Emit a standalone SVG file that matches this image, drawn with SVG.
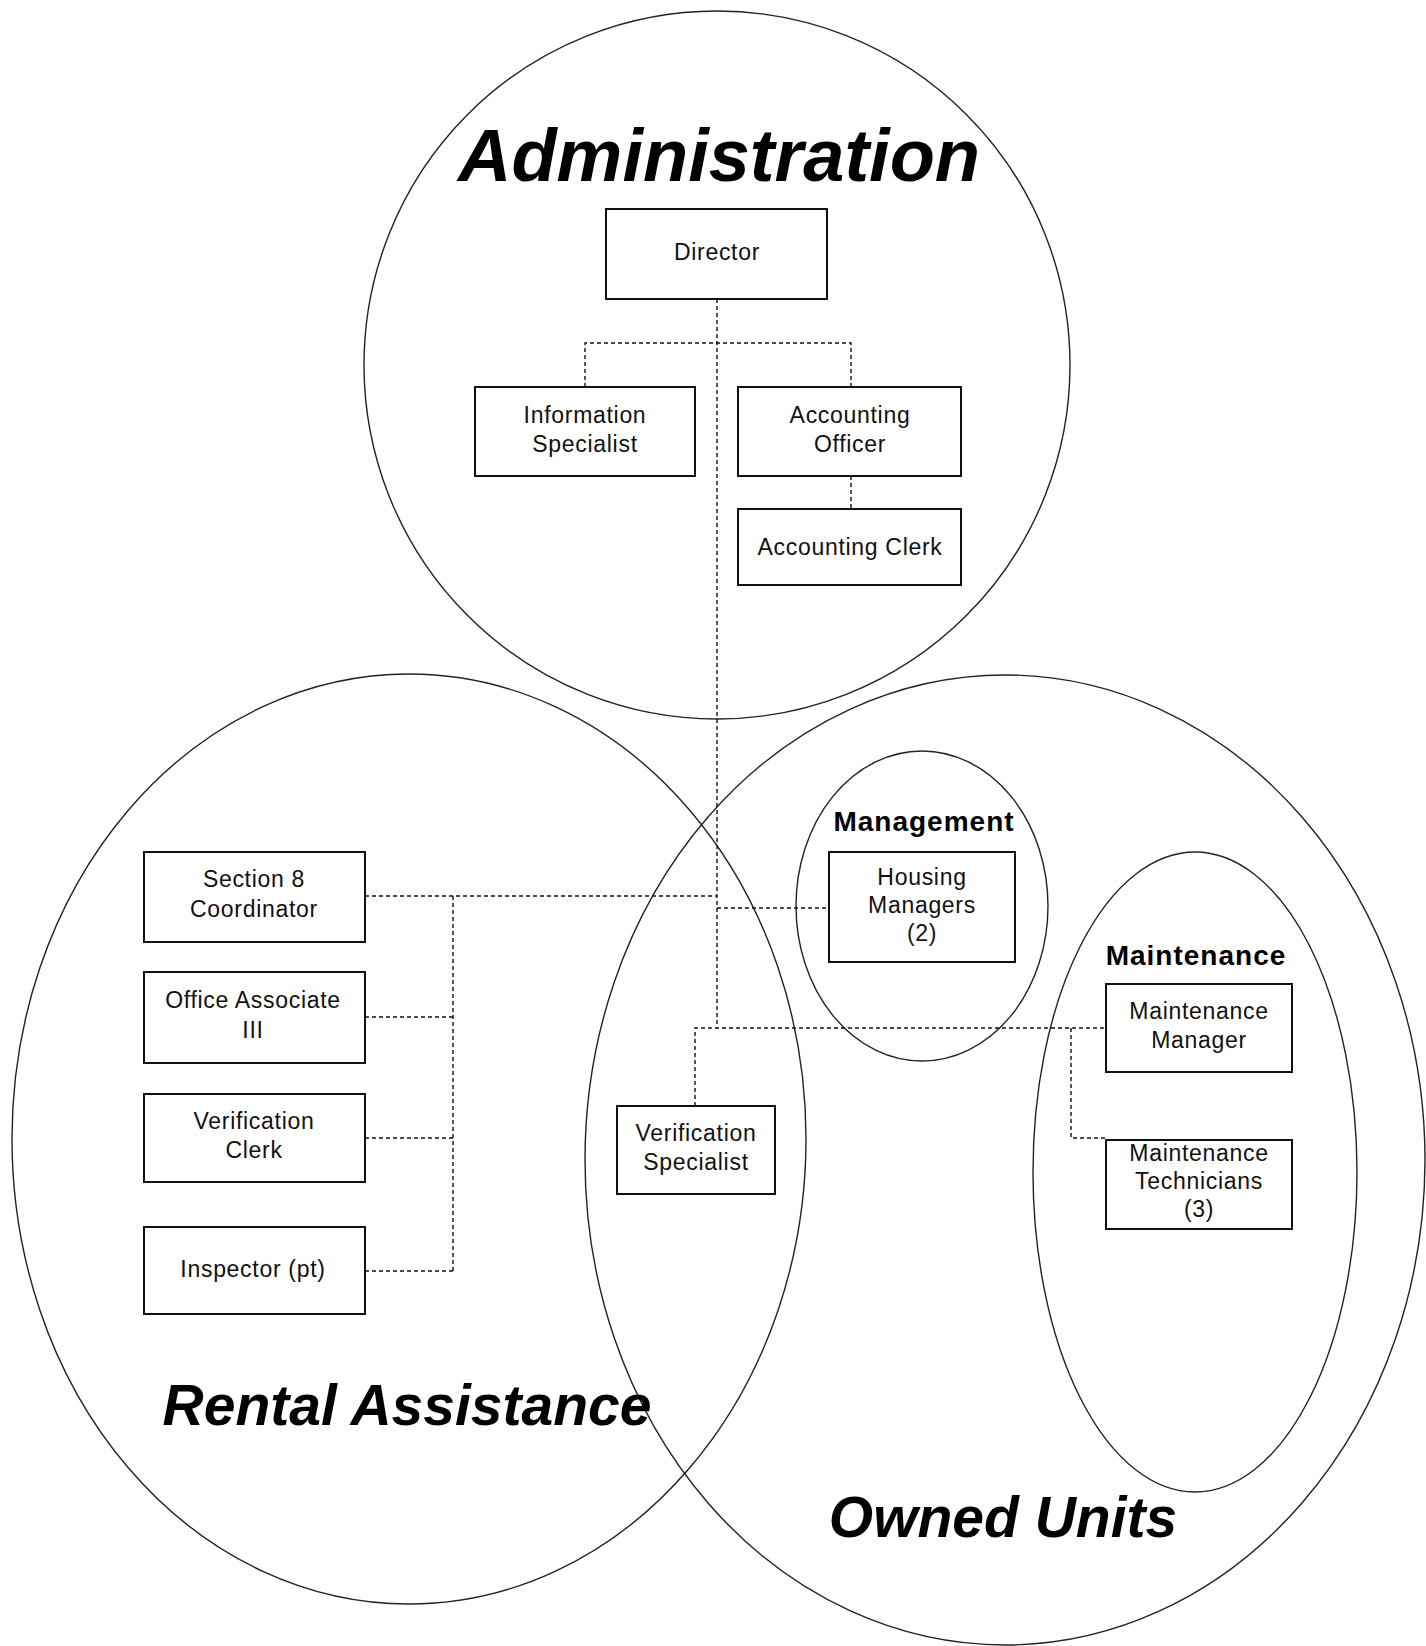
<svg xmlns="http://www.w3.org/2000/svg" width="1426" height="1646" viewBox="0 0 1426 1646">
<style>
.area{fill:none;stroke:#222;stroke-width:1.4}
.box{fill:#fff;stroke:#111;stroke-width:2}
.t{font-family:"Liberation Sans",Arial,sans-serif;font-size:23px;letter-spacing:0.7px;text-anchor:middle;fill:#111}
.sub{font-family:"Liberation Sans",Arial,sans-serif;font-size:28px;font-weight:bold;letter-spacing:1px;text-anchor:middle;fill:#000}
.big{font-family:"Liberation Sans",Arial,sans-serif;font-weight:bold;font-style:italic;text-anchor:middle;fill:#000}
.conn{fill:none;stroke:#111;stroke-width:1.4;stroke-dasharray:4 3}
</style>
<rect width="1426" height="1646" fill="#fff"/>
<g id="areas">
<ellipse id="admin-area" class="area" cx="717" cy="365" rx="353" ry="354"/>
<ellipse id="rental-area" class="area" cx="409" cy="1139" rx="397" ry="465"/>
<ellipse id="owned-area" class="area" cx="1005" cy="1160" rx="420" ry="485"/>
<ellipse id="management-area" class="area" cx="922" cy="906" rx="126" ry="155"/>
<ellipse id="maintenance-area" class="area" cx="1195" cy="1172" rx="162" ry="320"/>
<text class="big" x="719" y="181" font-size="74">Administration</text>
<text class="big" x="407" y="1425" font-size="57">Rental Assistance</text>
<text class="big" x="1003" y="1537" font-size="57">Owned Units</text>
<text class="sub" x="924" y="831">Management</text>
<text class="sub" x="1196" y="965">Maintenance</text>
</g>
<g id="connectors">
<path class="conn" d="M717 299 V1028"/>
<path class="conn" d="M585 387 V343 H851 V387"/>
<path class="conn" d="M851 476 V509"/>
<path class="conn" d="M365 896 H717"/>
<path class="conn" d="M453 896 V1271"/>
<path class="conn" d="M365 1017 H453"/>
<path class="conn" d="M365 1138 H453"/>
<path class="conn" d="M365 1271 H453"/>
<path class="conn" d="M717 908 H829"/>
<path class="conn" d="M695 1106 V1028 H1106"/>
<path class="conn" d="M1071 1028 V1138 H1106"/>
</g>
<g id="director"><rect class="box" x="606" y="209" width="221" height="90"/><text class="t" x="717" y="260">Director</text></g>
<g id="information-specialist"><rect class="box" x="475" y="387" width="220" height="89"/><text class="t" x="585" y="423">Information</text><text class="t" x="585" y="452">Specialist</text></g>
<g id="accounting-officer"><rect class="box" x="738" y="387" width="223" height="89"/><text class="t" x="850" y="423">Accounting</text><text class="t" x="850" y="452">Officer</text></g>
<g id="accounting-clerk"><rect class="box" x="738" y="509" width="223" height="76"/><text class="t" x="850" y="555">Accounting Clerk</text></g>
<g id="section8-coordinator"><rect class="box" x="144" y="852" width="221" height="90"/><text class="t" x="254" y="887">Section 8</text><text class="t" x="254" y="917">Coordinator</text></g>
<g id="office-associate"><rect class="box" x="144" y="972" width="221" height="91"/><text class="t" x="253" y="1008">Office Associate</text><text class="t" x="253" y="1038">III</text></g>
<g id="verification-clerk"><rect class="box" x="144" y="1094" width="221" height="88"/><text class="t" x="254" y="1129">Verification</text><text class="t" x="254" y="1158">Clerk</text></g>
<g id="inspector"><rect class="box" x="144" y="1227" width="221" height="87"/><text class="t" x="253" y="1277">Inspector (pt)</text></g>
<g id="verification-specialist"><rect class="box" x="617" y="1106" width="158" height="88"/><text class="t" x="696" y="1141">Verification</text><text class="t" x="696" y="1170">Specialist</text></g>
<g id="housing-managers"><rect class="box" x="829" y="852" width="186" height="110"/><text class="t" x="922" y="885">Housing</text><text class="t" x="922" y="913">Managers</text><text class="t" x="922" y="941">(2)</text></g>
<g id="maintenance-manager"><rect class="box" x="1106" y="984" width="186" height="88"/><text class="t" x="1199" y="1019">Maintenance</text><text class="t" x="1199" y="1048">Manager</text></g>
<g id="maintenance-technicians"><rect class="box" x="1106" y="1140" width="186" height="89"/><text class="t" x="1199" y="1161">Maintenance</text><text class="t" x="1199" y="1189">Technicians</text><text class="t" x="1199" y="1217">(3)</text></g>
</svg>
